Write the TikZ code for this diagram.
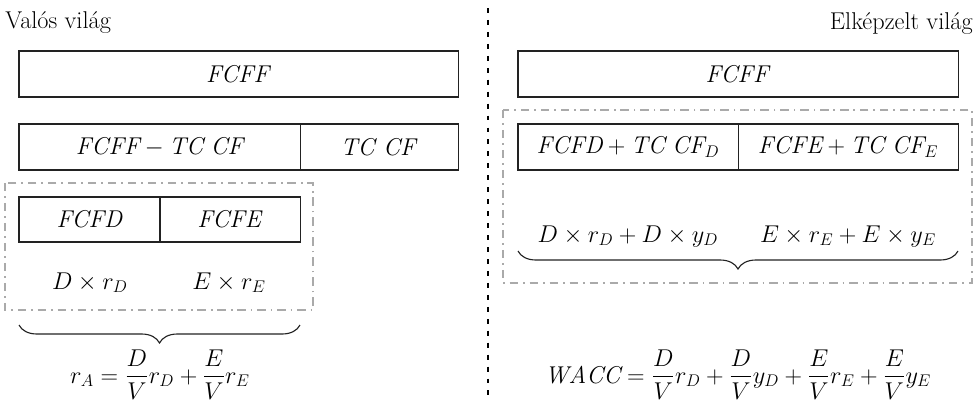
\documentclass[tikz,border=0pt]{standalone}
\usepackage{fontspec}
\usepackage{amsmath}
\usepackage{tikz}
\usetikzlibrary{positioning,decorations.pathreplacing}
\definecolor{boxline}{HTML}{222222}
\definecolor{dashgray}{HTML}{AAAAAA}
\tikzset{
  cell/.style={
    rectangle, draw=boxline, line width=0.8pt,
    minimum height=1.15cm, inner sep=0pt, outer sep=0pt,
    anchor=north west
  },
  groupbox/.style={
    draw=dashgray, line width=1.2pt,
    dash pattern=on 6pt off 3.5pt on 1.2pt off 3.5pt
  },
  sumbrace/.style={
    decorate, decoration={brace, mirror, amplitude=#1},
    line width=0.8pt, draw=boxline
  },
  sumbrace/.default=0.45cm,
  splitline/.style={
    line width=1.8pt, dash pattern=on 3.5pt off 5pt
  },
  mathlabel/.style={anchor=base, inner sep=0pt},
}

\begin{document}
\begin{tikzpicture}[x=0.025cm, y=-0.025cm, font=\fontsize{17.28}{20}\selectfont]
  \useasboundingbox (0,0) rectangle (978,402);

  % Divider between the two worlds
  \coordinate (divtop) at (488,8);
  \coordinate (divbot) at (488,402);
  \draw[splitline] (divtop) -- (divbot);

  % Real world (left)
  \node[anchor=base west, inner sep=0pt] (realtitle) at (5,28) {Valós világ};
  \node[cell, minimum width=10.975cm] (fcffL) at (19,51) {\textit{FCFF}};
  \node[cell, minimum width=7.025cm] (netL) at (19,124) {$\mathit{FCFF}-\mathit{TC\ CF}$};
  \node[cell, minimum width=3.95cm, right=0pt of netL] (tcL) {\textit{TC CF}};

  \draw[groupbox] (5,183) rectangle (313,310);
  \node[cell, minimum width=3.525cm, minimum height=1.125cm] (fcfd) at (19,197) {\textit{FCFD}};
  \node[cell, minimum width=3.5cm, minimum height=1.125cm, right=0pt of fcfd] (fcfe) {\textit{FCFE}};
  \node[mathlabel] (retD) at (90,289) {$D\times r_D$};
  \node[mathlabel] (retE) at (229,289) {$E\times r_E$};

  \coordinate (braceLa) at (19,325);
  \coordinate (braceLb) at (300,325);
  \draw[sumbrace] (braceLa) -- (braceLb);
  \node[mathlabel] (rA) at (160,383)
    {$\displaystyle r_A=\frac{D}{V}r_D+\frac{E}{V}r_E$};

  % Imagined world (right)
  \node[anchor=base east, inner sep=0pt] (imagtitle) at (973,29) {Elképzelt világ};
  \node[cell, minimum width=11cm] (fcffR) at (518,51) {\textit{FCFF}};

  \draw[groupbox] (503,110) rectangle (972,283);
  \node[cell, minimum width=5.5cm] (fcfdR) at (518,124) {$\mathit{FCFD}+\mathit{TC\ CF}_D$};
  \node[cell, minimum width=5.5cm, right=0pt of fcfdR] (fcfeR) {$\mathit{FCFE}+\mathit{TC\ CF}_E$};
  \node[mathlabel] (retDR) at (628,242) {$D\times r_D+D\times y_D$};
  \node[mathlabel] (retER) at (848,242) {$E\times r_E+E\times y_E$};

  \coordinate (braceRa) at (518,251);
  \coordinate (braceRb) at (958,251);
  \draw[sumbrace] (braceRa) -- (braceRb);
  \node[mathlabel] (wacc) at (738,383)
    {$\displaystyle \mathit{WACC}=\frac{D}{V}r_D+\frac{D}{V}y_D+\frac{E}{V}r_E+\frac{E}{V}y_E$};
\end{tikzpicture}
\end{document}
